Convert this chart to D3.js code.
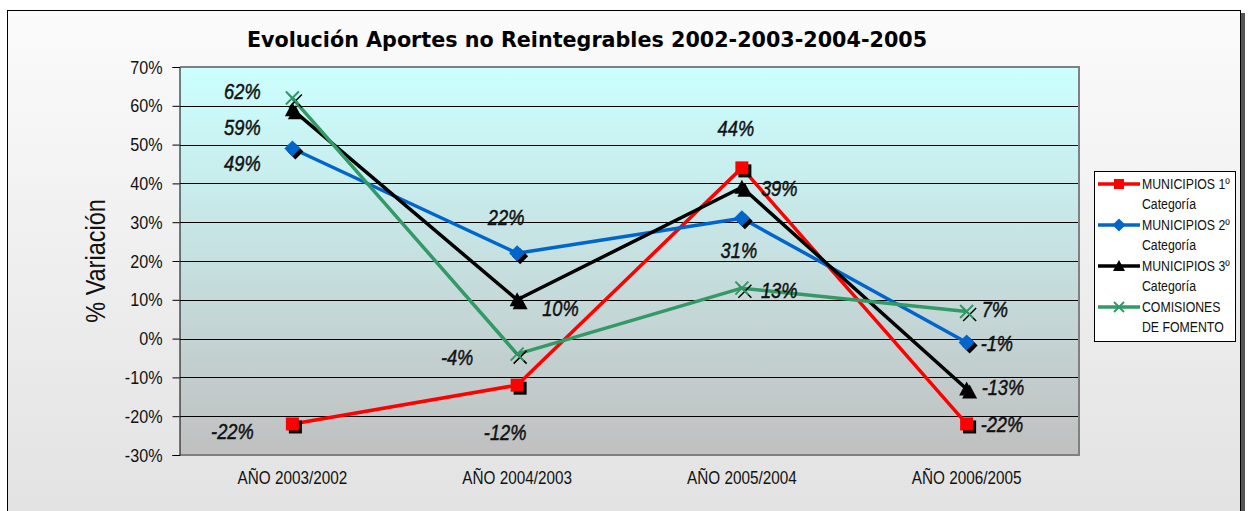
<!DOCTYPE html>
<html lang="es">
<head>
<meta charset="UTF-8">
<title>Evolución Aportes no Reintegrables</title>
<script src="https://d3js.org/d3.v7.min.js"></script>
<style>
  body { margin: 0; background: #fff; }
  text { font-family: "Liberation Sans", Arial, sans-serif; }
</style>
</head>
<body>
<div id="chart"></div>
<script>
// data
var categories = ["AÑO 2003/2002", "AÑO 2004/2003", "AÑO 2005/2004", "AÑO 2006/2005"];
var seriesNames = ["MUNICIPIOS 1º Categoría", "MUNICIPIOS 2º Categoría", "MUNICIPIOS 3º Categoría", "COMISIONES DE FOMENTO"];
var muni1 = [-22, -12, 44, -22];
var muni2 = [49, 22, 31, -1];
var muni3 = [59, 10, 39, -13];
var comisiones = [62, -4, 13, 7];
var yTicks = [-30, -20, -10, 0, 10, 20, 30, 40, 50, 60, 70];

var W = 1248, H = 511;
var plot = {left: 180, top: 67, right: 1079, bottom: 455};
var NARROW = 0.85; // no Arial Narrow here, squeeze Liberation Sans instead

var series = [
  {name: seriesNames[0], values: muni1, color: "#ff0000", marker: "square",
   lab: [[-60, 7, "middle"], [-12, 47, "middle"], [-6, -39, "middle"], [14, 0, "start"]]},
  {name: seriesNames[1], values: muni2, color: "#0066cc", marker: "diamond",
   lab: [[-50, 15, "middle"], [-11, -36, "middle"], [-3, 32, "middle"], [14, 1, "start"]]},
  {name: seriesNames[2], values: muni3, color: "#000000", marker: "triangle",
   lab: [[-50, 18, "middle"], [25, 9, "start"], [19, 1, "start"], [15, -2, "start"]]},
  {name: seriesNames[3], values: comisiones, color: "#339966", marker: "x",
   lab: [[-50, -7, "middle"], [-60, 3, "middle"], [19, 2, "start"], [15, -2, "start"]]}
];

var svg = d3.select("#chart").append("svg")
  .attr("width", W).attr("height", H);

// narrow text helper
function ntext(sel, px, py, str, k) {
  return sel.append("text")
    .attr("transform", "translate(" + px + "," + py + ") scale(" + (k || NARROW) + ",1)")
    .text(str);
}

var defs = svg.append("defs");
var bg = defs.append("linearGradient").attr("id", "bg").attr("x1", 0).attr("y1", 0).attr("x2", 0).attr("y2", 1);
bg.append("stop").attr("offset", "0%").attr("stop-color", "#fbfbfb");
bg.append("stop").attr("offset", "100%").attr("stop-color", "#e2e2e2");
var pg = defs.append("linearGradient").attr("id", "pg").attr("x1", 0).attr("y1", 0).attr("x2", 0).attr("y2", 1);
pg.append("stop").attr("offset", "0%").attr("stop-color", "#ccffff");
pg.append("stop").attr("offset", "100%").attr("stop-color", "#c0c0c0");

// chart area
svg.append("rect").attr("x", 1241).attr("y", 13).attr("width", 4).attr("height", H)
  .attr("fill", "#555");
svg.append("rect").attr("x", 7.5).attr("y", 10.5).attr("width", 1233).attr("height", H)
  .attr("fill", "url(#bg)").attr("stroke", "#000").attr("stroke-width", 1);

svg.append("text")
  .attr("x", 587).attr("y", 47)
  .attr("text-anchor", "middle")
  .style("font-family", "'DejaVu Sans', Verdana, sans-serif")
  .style("font-weight", "bold")
  .style("font-size", "20.7px")
  .text("Evolución Aportes no Reintegrables 2002-2003-2004-2005");

var x = d3.scaleBand().domain(categories).range([plot.left, plot.right]);
var y = d3.scaleLinear().domain([-30, 70]).range([plot.bottom, plot.top]);

// plot background
svg.append("rect")
  .attr("x", plot.left).attr("y", plot.top)
  .attr("width", plot.right - plot.left).attr("height", plot.bottom - plot.top)
  .attr("fill", "url(#pg)");

// grid
svg.append("g").selectAll("line").data(yTicks.slice(1, -1)).enter().append("line")
  .attr("x1", plot.left).attr("x2", plot.right)
  .attr("y1", function(d) { return Math.round(y(d)) + 0.5; })
  .attr("y2", function(d) { return Math.round(y(d)) + 0.5; })
  .attr("stroke", "#000").attr("stroke-width", 1);

// plot border
svg.append("path")
  .attr("d", "M" + plot.left + "," + plot.top + "H" + plot.right + "V" + plot.bottom + "H" + plot.left)
  .attr("fill", "none").attr("stroke", "#808080").attr("stroke-width", 2);

// y axis
var yAxis = svg.append("g")
  .attr("transform", "translate(" + (plot.left - 0.5) + ",0)")
  .call(d3.axisLeft(y).tickValues(yTicks).tickSize(7).tickPadding(10)
    .tickFormat(function(d) { return d + "%"; }));
yAxis.select(".domain").attr("stroke", "#000");
yAxis.selectAll(".tick text")
  .attr("x", -17 / NARROW)
  .attr("transform", "scale(" + NARROW + ",1)")
  .style("font-size", "19px").attr("fill", "#111")
  .style("font-family", "'Liberation Sans', Arial, sans-serif");

ntext(svg, 105, 261, "% Variación", 0.87)
  .attr("transform", "translate(105,261) rotate(-90) scale(0.87,1)")
  .attr("text-anchor", "middle")
  .style("font-size", "27px").attr("fill", "#111");

// x labels
categories.forEach(function(c) {
  ntext(svg, x(c) + x.bandwidth() / 2, 484, c)
    .attr("text-anchor", "middle")
    .style("font-size", "18px").attr("fill", "#111");
});

function markerPath(type, s) {
  if (type === "square") return "M" + (-s) + "," + (-s) + "h" + (2 * s) + "v" + (2 * s) + "h" + (-2 * s) + "Z";
  if (type === "diamond") return "M0," + (-s - 1.5) + "L" + (s + 1.5) + ",0L0," + (s + 1.5) + "L" + (-s - 1.5) + ",0Z";
  if (type === "triangle") return "M0," + (-s - 1) + "L" + (s + 1) + "," + (s) + "L" + (-s - 1) + "," + (s) + "Z";
  return "M" + (-s) + "," + (-s) + "L" + s + "," + s + "M" + s + "," + (-s) + "L" + (-s) + "," + s;
}

var line = d3.line()
  .x(function(d, i) { return x(categories[i]) + x.bandwidth() / 2; })
  .y(function(d) { return y(d); });

series.forEach(function(s) {
  svg.append("path").datum(s.values)
    .attr("d", line)
    .attr("fill", "none").attr("stroke", s.color).attr("stroke-width", 3.5)
    .attr("stroke-linejoin", "round");
});

series.forEach(function(s) {
  var g = svg.append("g");
  var pts = g.selectAll("g").data(s.values).enter().append("g")
    .attr("transform", function(d, i) {
      return "translate(" + (x(categories[i]) + x.bandwidth() / 2) + "," + y(d) + ")";
    });
  var isX = s.marker === "x";
  // shadow
  pts.append("path").attr("d", markerPath(s.marker, 6.5))
    .attr("transform", "translate(3,3)")
    .attr("fill", isX ? "none" : "#000").attr("stroke", "#000")
    .attr("stroke-width", isX ? 1.5 : 0);
  pts.append("path").attr("d", markerPath(s.marker, 6.5))
    .attr("fill", isX ? "none" : s.color).attr("stroke", s.color)
    .attr("stroke-width", isX ? 2 : 0);
});

// data labels
series.forEach(function(s) {
  s.values.forEach(function(v, i) {
    ntext(svg, x(categories[i]) + x.bandwidth() / 2 + s.lab[i][0], y(v) + s.lab[i][1], v + "%")
      .attr("text-anchor", s.lab[i][2])
      .attr("dominant-baseline", "central")
      .style("font-size", "21.5px").style("font-style", "italic")
      .attr("fill", "#111").attr("stroke", "#111").attr("stroke-width", 0.45);
  });
});

// legend
var leg = svg.append("g").attr("transform", "translate(1094,171)");
leg.append("rect").attr("x", 0.5).attr("y", 0.5).attr("width", 141).attr("height", 170)
  .attr("fill", "#fff").attr("stroke", "#000");
series.forEach(function(s, i) {
  var gy = 13 + i * 41;
  var e = leg.append("g").attr("transform", "translate(0," + gy + ")");
  e.append("line").attr("x1", 4).attr("x2", 46).attr("y1", 0).attr("y2", 0)
    .attr("stroke", s.color).attr("stroke-width", 3.5);
  e.append("path").attr("transform", "translate(25,0)")
    .attr("d", markerPath(s.marker, 5))
    .attr("fill", s.marker === "x" ? "none" : s.color).attr("stroke", s.color)
    .attr("stroke-width", s.marker === "x" ? 2 : 0);
  var words = s.name.split(" ");
  var first = words.slice(0, words.length - 1).join(" ");
  var second = words[words.length - 1];
  if (s.name.indexOf("COMISIONES") === 0) { first = "COMISIONES"; second = "DE FOMENTO"; }
  ntext(e, 48, 0, first, 0.82).attr("dominant-baseline", "central")
    .style("font-size", "15px").attr("fill", "#111");
  ntext(e, 48, 20, second, 0.82).attr("dominant-baseline", "central")
    .style("font-size", "15px").attr("fill", "#111");
});
</script>
</body>
</html>
